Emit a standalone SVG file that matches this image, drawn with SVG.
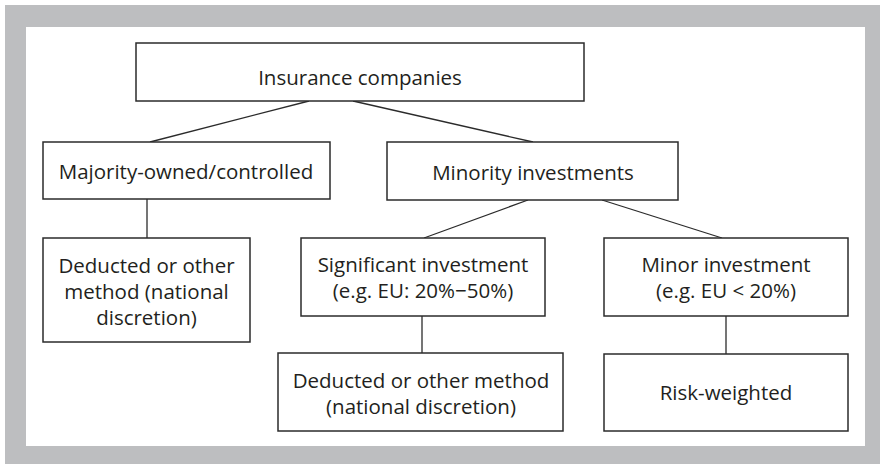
<svg xmlns="http://www.w3.org/2000/svg" width="880" height="464" viewBox="0 0 880 464">
<style>
.box{fill:#fff;stroke:#2b2b2b;stroke-width:1.5}
.t{font-family:"Open Sans","Noto Sans",sans-serif;font-size:20.5px;fill:#231f20;text-anchor:middle}
.c{stroke:#2b2b2b;stroke-width:1.3;fill:none}
</style>
<rect x="0" y="0" width="880" height="464" fill="#fff"/>
<rect x="5" y="5" width="875" height="459" fill="#bdbec0"/>
<rect x="26" y="27" width="839" height="419" fill="#fff"/>
<g id="connectors">
<line class="c" x1="309" y1="101" x2="150" y2="142"/>
<line class="c" x1="353" y1="101" x2="533" y2="142"/>
<line class="c" x1="147" y1="199" x2="147" y2="238"/>
<line class="c" x1="528" y1="200" x2="424" y2="238"/>
<line class="c" x1="602" y1="200" x2="722" y2="238"/>
<line class="c" x1="422" y1="316" x2="422" y2="353"/>
<line class="c" x1="726" y1="316" x2="726" y2="354"/>
</g>
<g id="insurance">
<rect class="box" x="136" y="43" width="448" height="58"/>
<text class="t" x="360" y="85">Insurance companies</text>
</g>
<g id="majority">
<rect class="box" x="43" y="142" width="287" height="57"/>
<text class="t" x="186" y="179">Majority-owned/controlled</text>
</g>
<g id="minority">
<rect class="box" x="387" y="142" width="291" height="58"/>
<text class="t" x="533" y="180">Minority investments</text>
</g>
<g id="deducted-left">
<rect class="box" x="43" y="238" width="207" height="104"/>
<text class="t" x="146.5" y="273">Deducted or other</text>
<text class="t" x="146.5" y="299">method (national</text>
<text class="t" x="146.5" y="325">discretion)</text>
</g>
<g id="significant">
<rect class="box" x="301" y="238" width="244" height="78"/>
<text class="t" x="423" y="272">Significant investment</text>
<text class="t" x="423" y="298">(e.g. EU: 20%−50%)</text>
</g>
<g id="minor">
<rect class="box" x="604" y="238" width="244" height="78"/>
<text class="t" x="726" y="272">Minor investment</text>
<text class="t" x="726" y="298">(e.g. EU &lt; 20%)</text>
</g>
<g id="deducted-bottom">
<rect class="box" x="278" y="353" width="285" height="78"/>
<text class="t" x="421" y="388">Deducted or other method</text>
<text class="t" x="421" y="414">(national discretion)</text>
</g>
<g id="risk">
<rect class="box" x="604" y="354" width="244" height="77"/>
<text class="t" x="726" y="400">Risk-weighted</text>
</g>
</svg>
